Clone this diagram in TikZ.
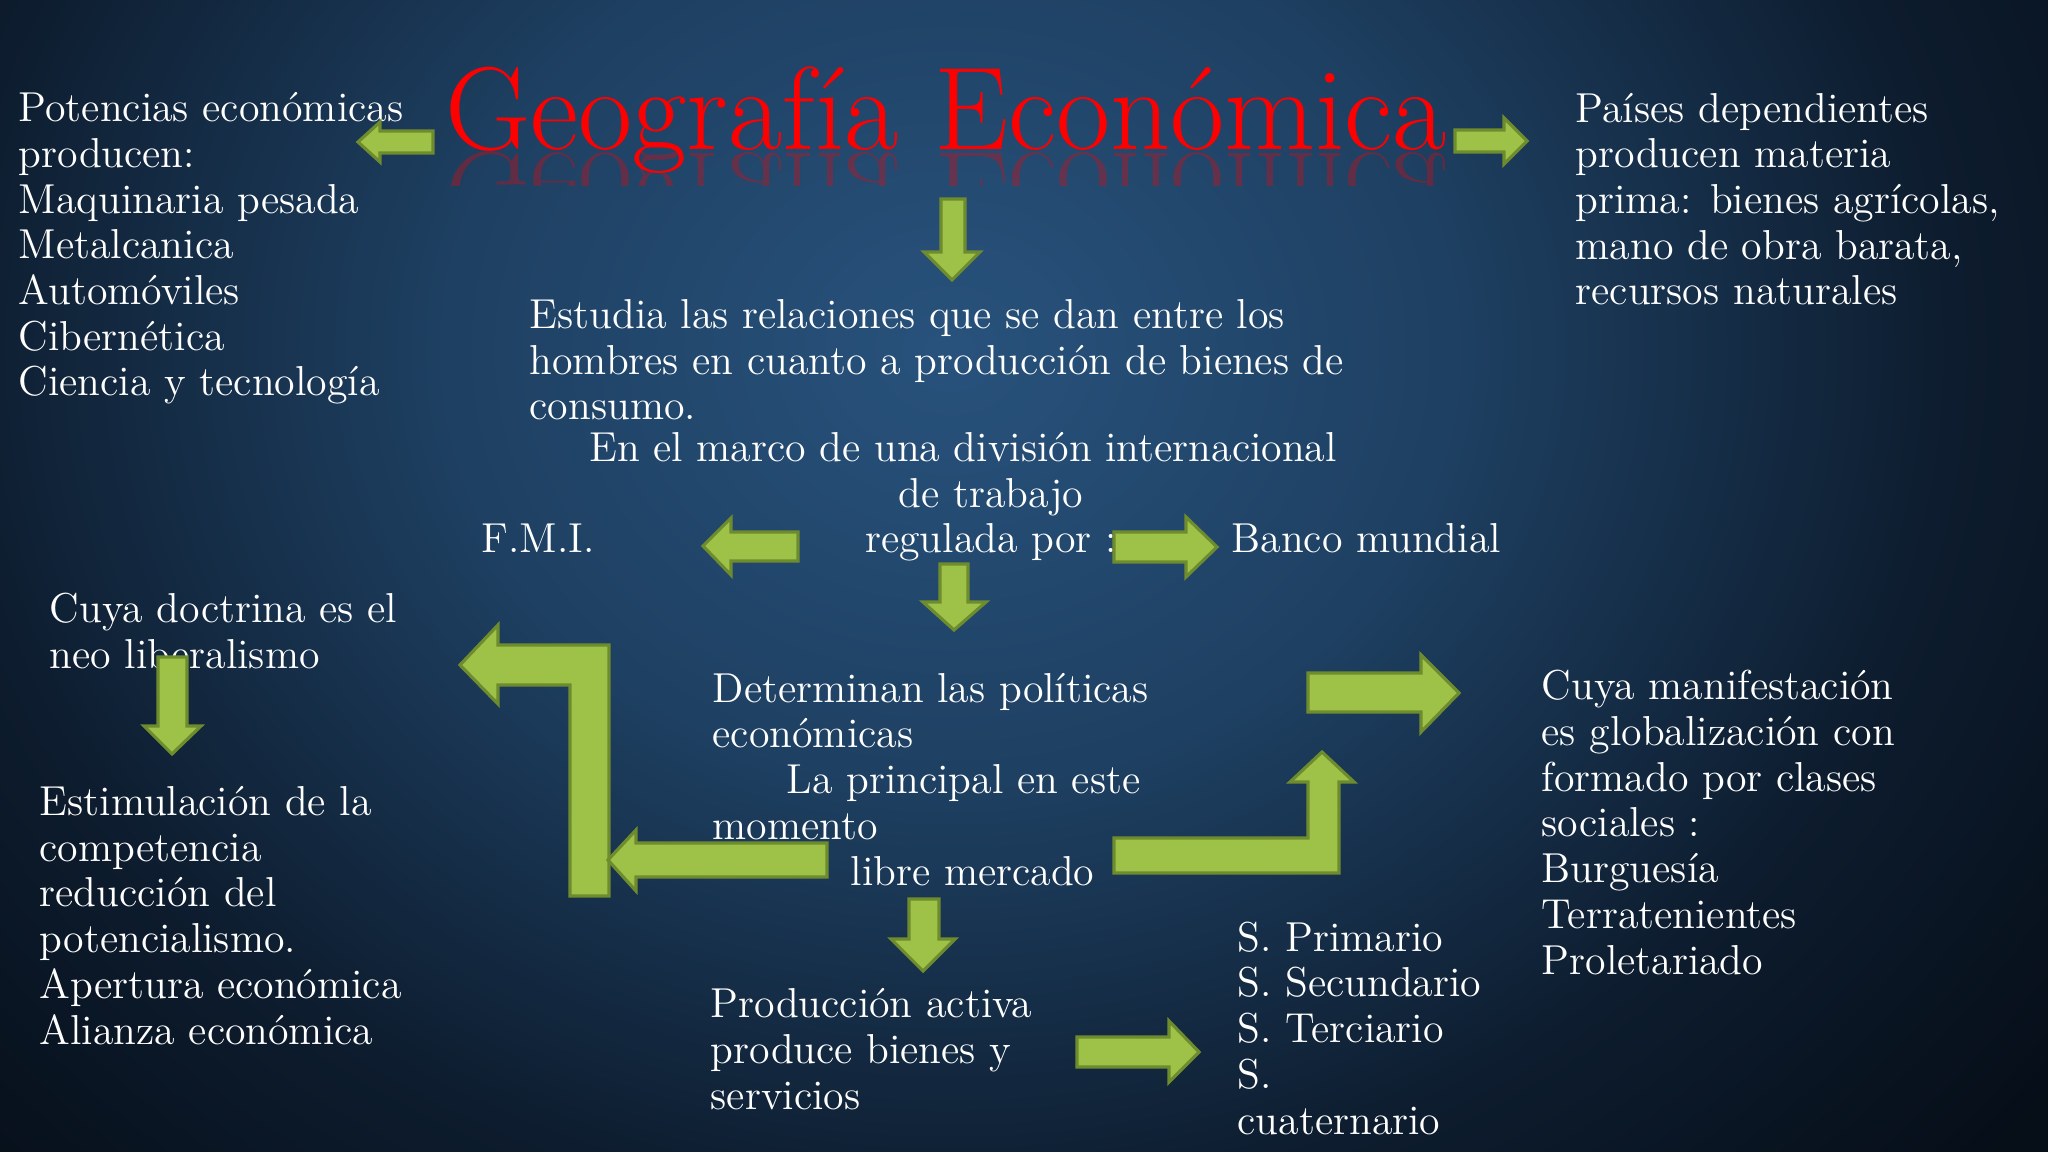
\documentclass[tikz,border=0pt]{standalone}
\usepackage{fontspec}
\definecolor{bgin}{RGB}{40,82,124}
\definecolor{bgmid}{RGB}{30,64,98}
\definecolor{bgdark}{RGB}{13,28,46}
\definecolor{bgout}{RGB}{6,14,24}
\definecolor{flecha}{RGB}{158,194,72}
\definecolor{flechaborde}{RGB}{110,140,46}
\pgfdeclareradialshading{fondo}{\pgfpointorigin}{color(0bp)=(bgin); color(9bp)=(bgmid); color(18bp)=(bgdark); color(25bp)=(bgout); color(50bp)=(bgout)}

\begin{document}
\begin{tikzpicture}[x=0.01cm,y=-0.01cm,
    texto/.style={text=white,align=left,anchor=base west,inner sep=0pt,
      font=\fontsize{11.9}{13}\selectfont},
    titulo/.style={text=red,anchor=base,inner sep=0pt,
      font=\fontsize{33.5}{33.5}\selectfont},
    flecha/.style={fill=flecha,draw=flechaborde,line width=0.9pt,line join=miter}]
  \useasboundingbox (0,0) rectangle (2048,1152);
  \begin{scope}
    \clip (0,0) rectangle (2048,1152);
    \shade[shading=fondo] (-450,-850) rectangle (2350,1550);
  \end{scope}

  % titulo y su reflejo
  \node[titulo] (tit) at (946,150) {Geografía Económica};
  \begin{scope}
    \clip (400,151) rectangle (1500,186);
    \node[titulo,yscale=-1,opacity=.3] (reflejo) at (946,154) {Geografía Económica};
  \end{scope}

  % textos (anclados en la ultima linea)
  \node[texto] (potencias) at (18,396) {Potencias económicas\\producen:\\Maquinaria pesada\\Metalcanica\\Automóviles\\Cibernética\\Ciencia y tecnología};
  \node[texto] (paises) at (1575,305) {Países dependientes\\producen materia\\prima: bienes agrícolas,\\mano de obra barata,\\recursos naturales};
  \node[texto] (estudia) at (529,420) {Estudia las relaciones que se dan entre los\\hombres en cuanto a producción de bienes de\\consumo.};
  \node[texto,align=center,anchor=base] (marco) at (991,553) {En el marco de una división internacional\hspace*{0.56cm}\\de trabajo\\regulada por :};
  \node[texto] (fmi) at (481,553) {F.M.I.};
  \node[texto] (banco) at (1231,553) {Banco mundial};
  \node[texto] (doctrina) at (49,668) {Cuya doctrina es el\\neo liberalismo};
  \node[texto] (determinan) at (712,885) {Determinan las políticas\\económicas\\\hspace*{0.74cm}La principal en este\\momento\\\hspace*{1.38cm}libre mercado};
  \node[texto] (estimulacion) at (39,1044) {Estimulación de la\\competencia\\reducción del\\potencialismo.\\Apertura económica\\Alianza económica};
  \node[texto] (produccion) at (710,1109) {Producción activa\\produce bienes y\\servicios};
  \node[texto] (sectores) at (1237,1134) {S. Primario\\S. Secundario\\S. Terciario\\S.\\cuaternario};
  \node[texto] (manifestacion) at (1541,974) {Cuya manifestación\\es globalización con\\formado por clases\\sociales :\\Burguesía\\Terratenientes\\Proletariado};

  % flechas
  \path[flecha] (433,131) -- (380,131) -- (380,122) -- (358,142) -- (380,162) -- (380,153) -- (433,153) -- cycle;
  \path[flecha] (1455,130) -- (1504,130) -- (1504,118) -- (1527,141) -- (1504,164) -- (1504,152) -- (1455,152) -- cycle;
  \path[flecha] (941,199) -- (965,199) -- (965,252) -- (980,252) -- (952,280) -- (924,252) -- (941,252) -- cycle;

  \path[flecha] (798,532) -- (731,532) -- (731,518) -- (703,546) -- (731,575) -- (731,561) -- (798,561) -- cycle;
  \path[flecha] (1114,532) -- (1186,532) -- (1186,517) -- (1217,547) -- (1186,577) -- (1186,562) -- (1114,562) -- cycle;
  \path[flecha] (940,564) -- (968,564) -- (968,602) -- (986,602) -- (954,630) -- (923,602) -- (940,602) -- cycle;

  \path[flecha] (570,896) -- (570,685) -- (498,685) -- (498,704) -- (460,665) -- (498,625) -- (498,645) -- (609,645) -- (609,896) -- cycle;
  \path[flecha] (827,843) -- (636,843) -- (636,830) -- (608,860) -- (636,891) -- (636,877) -- (827,877) -- cycle;
  \path[flecha] (1114,838) -- (1308,838) -- (1308,782) -- (1290,782) -- (1322,752) -- (1354,782) -- (1339,782) -- (1339,873) -- (1114,873) -- cycle;
  \path[flecha] (1308,673) -- (1421,673) -- (1421,655) -- (1459,693) -- (1421,732) -- (1421,712) -- (1308,712) -- cycle;

  \path[flecha] (158,657) -- (187,657) -- (187,726) -- (201,726) -- (172,754) -- (144,726) -- (158,726) -- cycle;
  \path[flecha] (909,899) -- (939,899) -- (939,939) -- (955,939) -- (923,971) -- (891,939) -- (909,939) -- cycle;
  \path[flecha] (1077,1037) -- (1169,1037) -- (1169,1021) -- (1199,1052) -- (1169,1082) -- (1169,1067) -- (1077,1067) -- cycle;
\end{tikzpicture}
\end{document}
